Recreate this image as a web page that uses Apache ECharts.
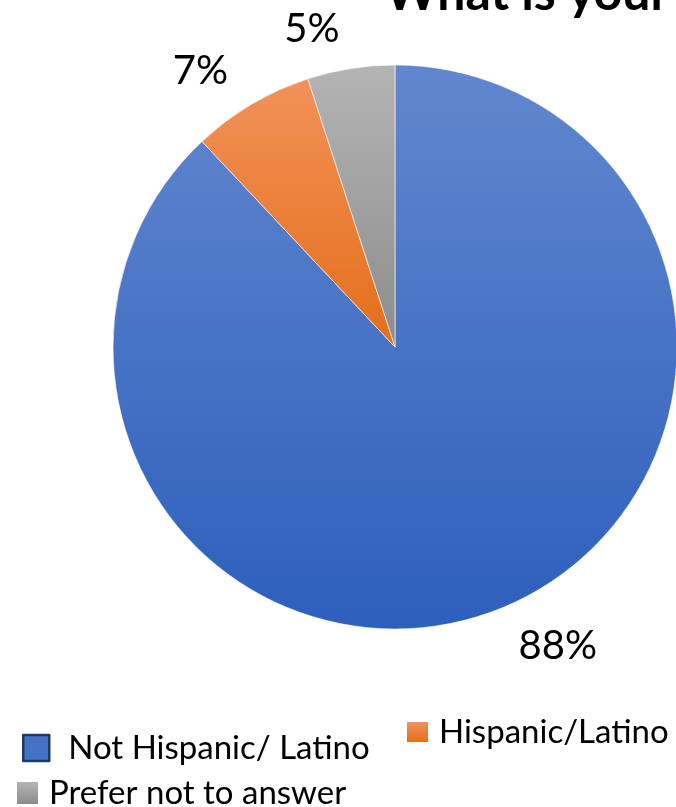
<!DOCTYPE html>
<html>
<head>
<meta charset="utf-8">
<script src="https://cdn.jsdelivr.net/npm/echarts@6/dist/echarts.min.js"></script>
<style>
  html, body { margin: 0; padding: 0; background: #ffffff; }
  #chart { width: 676px; height: 807px; }
</style>
</head>
<body>
<div id="chart"></div>
<script>
// Survey answers, share of respondents (%)
const categories = ['Not Hispanic/ Latino', 'Hispanic/Latino', 'Prefer not to answer'];
const shares = [88, 7, 5];
const titleText = 'What is your';

// Top and bottom shade of each slice's vertical gradient
const shadeTop = ['#6287CE', '#F29259', '#B4B4B4'];
const shadeBottom = ['#2D5FBC', '#E46E1A', '#8C8C8C'];

function grad(i) {
  return new echarts.graphic.LinearGradient(0, 0, 0, 1, [
    { offset: 0, color: shadeTop[i] },
    { offset: 1, color: shadeBottom[i] }
  ]);
}

const FONT = 'Lato, "Open Sans", sans-serif';

const chart = echarts.init(document.getElementById('chart'), null, { renderer: 'canvas' });

function legendText(padLeft) {
  return {
    fontFamily: FONT, fontSize: 33, lineHeight: 34, color: '#000000',
    padding: [0, 0, 0, padLeft]
  };
}

chart.setOption({
  animation: false,
  backgroundColor: '#ffffff',
  title: {
    text: titleText,
    left: 385,
    top: -31,
    padding: 0,
    textStyle: { fontFamily: FONT, fontSize: 50, fontWeight: 'bold', color: '#000000' }
  },
  legend: [
    {
      left: 22, top: 731, padding: 0, selectedMode: false,
      icon: 'rect', itemWidth: 26, itemHeight: 26,
      data: [{ name: categories[0], itemStyle: { color: '#4472C4', borderColor: '#1F3864', borderWidth: 2.5 } }],
      textStyle: legendText(14)
    },
    {
      left: 407, top: 715, padding: 0, selectedMode: false,
      icon: 'rect', itemWidth: 21, itemHeight: 20,
      data: [{ name: categories[1], itemStyle: { color: grad(1), borderWidth: 0 } }],
      textStyle: legendText(6)
    },
    {
      left: 17, top: 776, padding: 0, selectedMode: false,
      icon: 'rect', itemWidth: 21, itemHeight: 22,
      data: [{ name: categories[2], itemStyle: { color: grad(2), borderWidth: 0 } }],
      textStyle: legendText(6)
    }
  ],
  series: [{
    type: 'pie',
    center: [395, 347],
    radius: [0, 282],
    startAngle: 90,
    clockwise: true,
    silent: true,
    itemStyle: { borderColor: '#ffffff', borderWidth: 0.6 },
    label: {
      show: true,
      position: 'outside',
      formatter: '{c}%',
      fontFamily: FONT,
      fontSize: 40,
      color: '#000000'
    },
    labelLine: { show: false, length: 40, length2: 0 },
    data: categories.map((name, i) => ({
      name: name,
      value: shares[i],
      itemStyle: { color: grad(i) }
    }))
  }]
});
</script>
</body>
</html>
